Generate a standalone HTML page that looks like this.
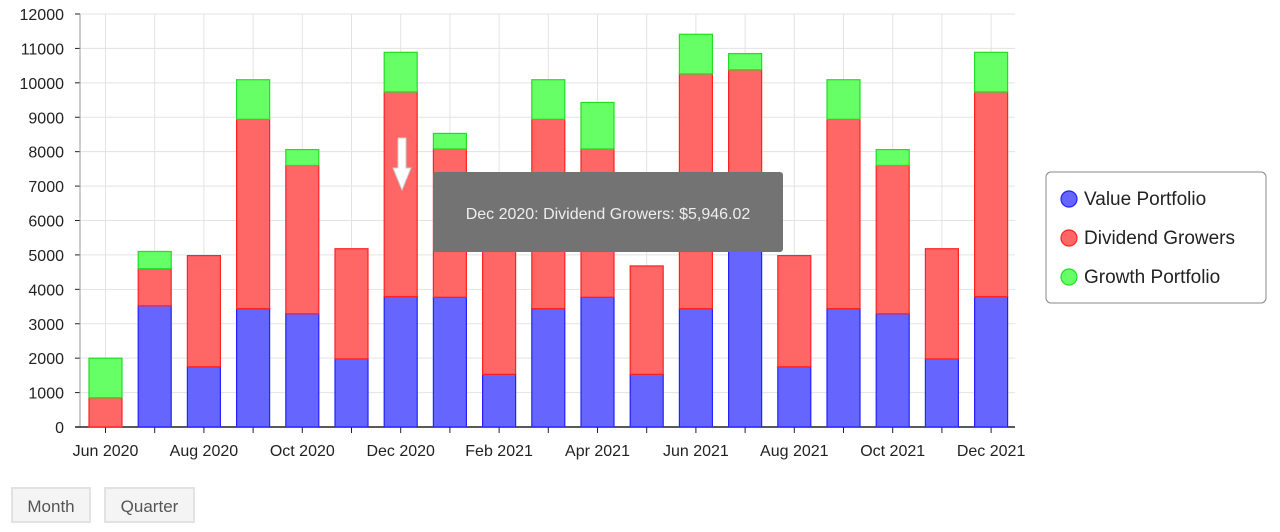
<!DOCTYPE html>
<html><head><meta charset="utf-8"><style>
body{margin:0;width:1280px;height:532px;background:#fff;font-family:"Liberation Sans",sans-serif;overflow:hidden;position:relative}
svg{position:absolute;left:0;top:0}
.btn{position:absolute;top:487px;height:36px;border:2px solid #e2e2e2;background:#f4f4f4;color:#555;font-size:17px;line-height:36px;text-align:center;box-sizing:border-box}
</style></head><body>
<svg id="chart" width="1280" height="480"></svg>
<div class="btn" style="left:11px;width:80px">Month</div>
<div class="btn" style="left:104px;width:91px">Quarter</div>
<script>
const months=["Jun 2020","Jul 2020","Aug 2020","Sep 2020","Oct 2020","Nov 2020","Dec 2020","Jan 2021","Feb 2021","Mar 2021","Apr 2021","May 2021","Jun 2021","Jul 2021","Aug 2021","Sep 2021","Oct 2021","Nov 2021","Dec 2021"];
const valuePortfolio=[0,3520,1750,3440,3290,1980,3790,3770,1530,3440,3770,1530,3440,6000,1750,3440,3290,1980,3790];
const dividendGrowers=[850,1080,3230,5500,4310,3200,5946.02,4310,5470,5500,4310,3150,6820,4380,3230,5500,4310,3200,5946.02];
const growthPortfolio=[1150,500,0,1150,460,0,1150,450,0,1150,1350,0,1150,470,0,1150,460,0,1150];
const yTicks=[0,1000,2000,3000,4000,5000,6000,7000,8000,9000,10000,11000,12000];
const NS="http://www.w3.org/2000/svg";
const svg=document.getElementById('chart');
const X0=80,X1=1015,Y0=427,Y1=14,YMAX=12000;
const step=49.2,first=105.5,bw=33;
const xs=i=>first+i*step;
const ys=v=>Y0-(v/YMAX)*(Y0-Y1);
function mk(t,a){const e=document.createElementNS(NS,t);for(const k in a)e.setAttribute(k,a[k]);svg.appendChild(e);return e;}
// grid
yTicks.forEach(v=>{
 const g=mk('line',{x1:X0,x2:X1,y1:ys(v),y2:ys(v),stroke:'#e3e3e3'});
 
 
 const t=mk('text',{x:X0-16,y:ys(v)+6,'text-anchor':'end','font-size':16,fill:'#222'});
 t.textContent=v;
 
 
 mk('line',{x1:X0-5,x2:X0,y1:ys(v),y2:ys(v),stroke:'#222'});
});
months.forEach((m,i)=>{
 const g=mk('line',{x1:xs(i),x2:xs(i),y1:Y1,y2:Y0,stroke:'#e3e3e3'});
 
 
 mk('line',{x1:xs(i),x2:xs(i),y1:Y0,y2:Y0+6,stroke:'#222'});
 if(i%2===0){const t=mk('text',{x:xs(i),y:Y0+29,'text-anchor':'middle','font-size':16,fill:'#222'});
 t.textContent=m;
 
 }
});
mk('line',{x1:X0,x2:X0,y1:Y1,y2:Y0,stroke:'#999'});
mk('line',{x1:X0-5,x2:X1,y1:Y0,y2:Y0,stroke:'#222','stroke-width':1.5});
const series=[[valuePortfolio,'#6666ff','#2222ff','bar-value-portfolio'],[dividendGrowers,'#ff6666','#ff2222','bar-dividend-growers'],[growthPortfolio,'#66ff66','#22dd22','bar-growth-portfolio']];
months.forEach((m,i)=>{
 let base=0;
 series.forEach(([arr,f,s,n])=>{
  const v=arr[i];if(v<=0)return;
  const r=mk('rect',{x:xs(i)-bw/2,y:ys(base+v),width:bw,height:ys(base)-ys(base+v),fill:f,stroke:s,'stroke-width':1.2});
  
  
  base+=v;
 });
});
// arrow
const ar=mk('path',{d:'M398,138 h8 v30 h5 l-9,22 l-9,-22 h5 z',fill:'#fff',stroke:'#ccc','stroke-width':1});


// tooltip
const tb=mk('rect',{x:433,y:172,width:350,height:80,rx:3,fill:'#737373'});


const tt=mk('text',{x:608,y:219,'text-anchor':'middle','font-size':16,fill:'#eee'});
tt.textContent='Dec 2020: Dividend Growers: $5,946.02';


// legend
const lg=mk('rect',{x:1046,y:172,width:220,height:131,rx:5,fill:'#fff',stroke:'#888'});


[['Value Portfolio','#6666ff','#2222ff'],['Dividend Growers','#ff6666','#ff2222'],['Growth Portfolio','#66ff66','#22dd22']].forEach(([n,f,s],k)=>{
 const y=199+k*39;
 const c=mk('circle',{cx:1069,cy:y,r:8,fill:f,stroke:s,'stroke-width':1.2});
 
 
 const t=mk('text',{x:1084,y:y+6,'font-size':19,fill:'#222'});
 t.textContent=n;
 
 
});
</script>
</body></html>
